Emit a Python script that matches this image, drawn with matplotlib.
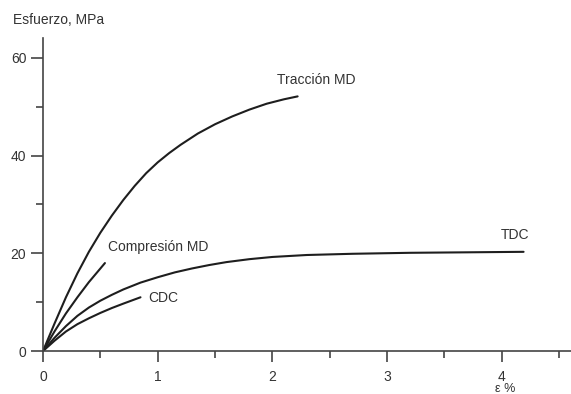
import matplotlib
matplotlib.use("Agg")
import matplotlib.pyplot as plt
from matplotlib.ticker import MultipleLocator

plt.rcParams['font.family'] = ['Liberation Sans', 'DejaVu Sans']

# Stress-strain curves (strain in %, stress in MPa)
traccion_md_x = [0, 0.1, 0.2, 0.3, 0.4, 0.5, 0.6, 0.7, 0.8, 0.9, 1.0, 1.1, 1.2,
                 1.35, 1.5, 1.65, 1.8, 1.95, 2.1, 2.22]
traccion_md_y = [0, 5.6, 11.0, 15.9, 20.3, 24.2, 27.7, 30.9, 33.8, 36.4, 38.6, 40.5,
                 42.2, 44.5, 46.4, 48.0, 49.4, 50.6, 51.5, 52.1]

compresion_md_x = [0, 0.1, 0.2, 0.3, 0.4, 0.54]
compresion_md_y = [0, 4.0, 7.7, 11.0, 14.1, 18.0]

traccion_dc_x = [0, 0.1, 0.2, 0.3, 0.4, 0.5, 0.6, 0.7, 0.85, 1.0, 1.15, 1.3, 1.45,
                 1.6, 1.8, 2.0, 2.3, 2.7, 3.2, 3.7, 4.19]
traccion_dc_y = [0, 2.7, 5.1, 7.2, 8.9, 10.3, 11.5, 12.6, 14.0, 15.1, 16.1, 16.9,
                 17.6, 18.2, 18.8, 19.25, 19.65, 19.9, 20.1, 20.2, 20.3]

compresion_dc_x = [0, 0.1, 0.2, 0.3, 0.4, 0.5, 0.6, 0.7, 0.85]
compresion_dc_y = [0, 2.1, 4.0, 5.5, 6.7, 7.8, 8.8, 9.7, 11.0]

x_ticks = [0, 1, 2, 3, 4]
y_ticks = [0, 20, 40, 60]

fig = plt.figure(figsize=(5.71, 3.94), dpi=100)
ax = fig.add_axes([0.0753, 0.109, 0.924, 0.794])

line_kw = dict(color='#1e1e1e', lw=1.5, solid_capstyle='round', solid_joinstyle='round')
ax.plot(traccion_md_x, traccion_md_y, **line_kw)
ax.plot(compresion_md_x, compresion_md_y, **line_kw)
ax.plot(traccion_dc_x, traccion_dc_y, **line_kw)
ax.plot(compresion_dc_x, compresion_dc_y, **line_kw)

txt_kw = dict(fontsize=10, color='#333333', va='center')
ax.text(2.04, 55.5, 'Tracción MD', **txt_kw)
ax.text(0.57, 21.3, 'Compresión MD', **txt_kw)
ax.text(0.92, 10.9, 'CDC', **txt_kw)
ax.text(3.99, 23.8, 'TDC', **txt_kw)

ax.set_xlim(0, 4.6)
ax.set_ylim(0, 64)
ax.set_xticks(x_ticks)
ax.set_yticks(y_ticks)
ax.xaxis.set_minor_locator(MultipleLocator(0.5))
ax.yaxis.set_minor_locator(MultipleLocator(10))

for s in ['top', 'right']:
    ax.spines[s].set_visible(False)
for s in ['left', 'bottom']:
    ax.spines[s].set_color('#444444')
    ax.spines[s].set_linewidth(1.2)

ax.tick_params(axis='x', which='major', length=8, width=1.2, color='#444444',
               labelsize=10, labelcolor='#333333', pad=6)
ax.tick_params(axis='x', which='minor', length=5, width=1.2, color='#444444')
ax.tick_params(axis='y', which='major', length=9, width=1.2, color='#444444',
               labelsize=10, labelcolor='#333333', pad=3)
ax.tick_params(axis='y', which='minor', length=5, width=1.2, color='#444444')

fig.text(13 / 571, 1 - 20 / 394, 'Esfuerzo, MPa', fontsize=10, color='#333333',
         ha='left', va='center')
fig.text(505 / 571, 1 - 389 / 394, 'ε %', fontsize=9, color='#333333',
         ha='center', va='center')

fig.savefig('out.png', dpi=100)
